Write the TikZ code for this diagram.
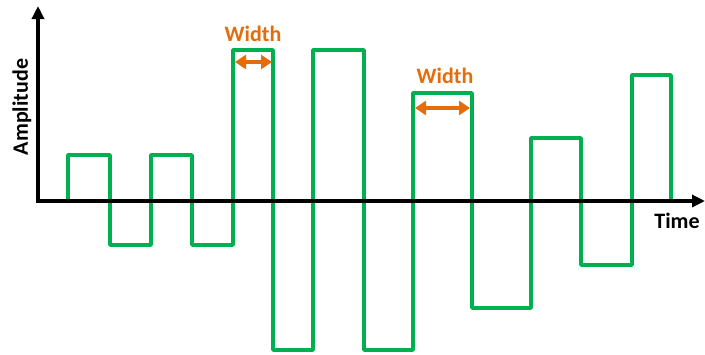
\documentclass[tikz,border=0pt]{standalone}
\usepackage{fontspec}
\setmainfont{Carlito}
\usetikzlibrary{arrows.meta}
\definecolor{wgreen}{HTML}{00B050}
\definecolor{worange}{HTML}{E46C0A}
\begin{document}
\begin{tikzpicture}[x=1pt,y=-1pt,
 axis/.style={line width=4pt,-{Triangle[length=13pt,width=12pt]}},
 wave/.style={wgreen,line width=3.5pt,line join=round,line cap=round},
 widtharrow/.style={worange,line width=4pt,{Triangle[length=11pt,width=14pt]}-{Triangle[length=11pt,width=14pt]}},
 lbl/.style={inner sep=0pt,font=\fontsize{22}{26}\selectfont\bfseries}]
\useasboundingbox (0,0) rectangle (705,354);
\coordinate (O) at (38,201);
\coordinate (ytip) at (38,6);
\coordinate (xtip) at (705,201);
\draw[wave] (68,201) -- (68,155) -- (110,155) -- (110,245) -- (151,245) -- (151,155) -- (192,155) -- (192,245) -- (233,245) -- (233,50) -- (273,50) -- (273,350) -- (313,350) -- (313,50) -- (364,50) -- (364,350) -- (413,350) -- (413,93) -- (472,93) -- (472,308) -- (531,308) -- (531,138) -- (581,138) -- (581,265) -- (632,265) -- (632,75) -- (671,75) -- (671,201);
\draw[axis] ([yshift=2pt]O) -- (ytip);
\draw[axis] ([xshift=-2pt]O) -- (xtip);
\coordinate (w1a) at (235,62);
\coordinate (w1b) at (272,62);
\coordinate (w2a) at (415,108);
\coordinate (w2b) at (470,108);
\draw[widtharrow] (w1a) -- (w1b);
\draw[widtharrow] (w2a) -- (w2b);
\node[lbl,text=worange] (lw1) at (253,34) {Width};
\node[lbl,text=worange] (lw2) at (445,76) {Width};
\node[lbl] (ltime) at (677,221) {Time};
\node[lbl,rotate=90] (lamp) at (22,107) {Amplitude};
\end{tikzpicture}
\end{document}
